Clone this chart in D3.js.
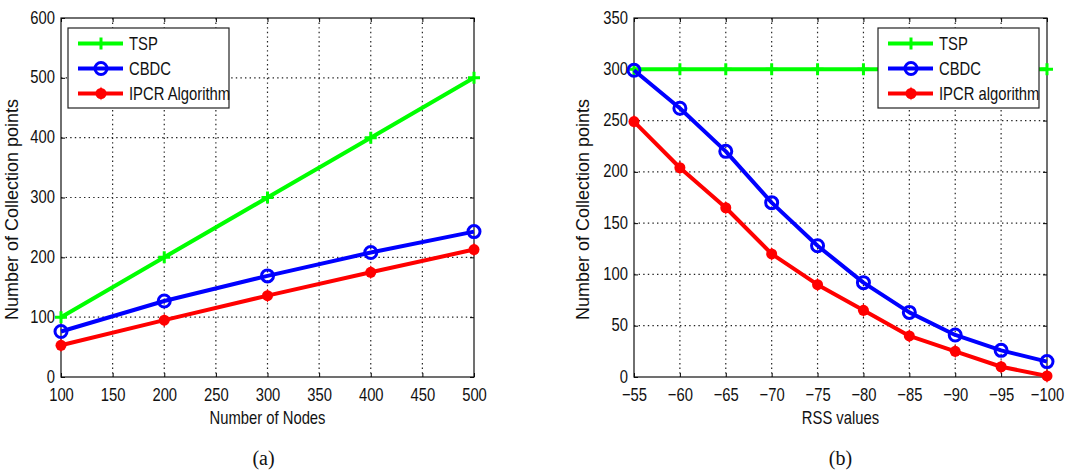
<!DOCTYPE html>
<html>
<head>
<meta charset="utf-8">
<script src="https://cdn.jsdelivr.net/npm/d3@7"></script>
<style>
body { margin: 0; background: #fff; }
svg { display: block; }
</style>
</head>
<body>
<div id="chart"></div>
<script>
// panel (a): number of nodes
const nodes = [100, 200, 300, 400, 500]
const tspA = [100, 200, 300, 400, 500]
const cbdcA = [76, 127, 169, 208, 243]
const ipcrA = [53, 95, 136, 175, 213]

// panel (b): RSS values
const rss = [-55, -60, -65, -70, -75, -80, -85, -90, -95, -100]
const tspB = [300, 300, 300, 300, 300, 300, 300, 300, 300, 300]
const cbdcB = [299, 262, 220, 170, 128, 92, 63, 41, 26, 15]
const ipcrB = [249, 204, 165, 120, 90, 65, 40, 25, 10, 1]

const xTicksA = [100, 150, 200, 250, 300, 350, 400, 450, 500]
const yTicksA = [0, 100, 200, 300, 400, 500, 600]
const xTicksB = [-55, -60, -65, -70, -75, -80, -85, -90, -95, -100]
const yTicksB = [0, 50, 100, 150, 200, 250, 300, 350]

const font = "'Liberation Sans', Arial, Helvetica, sans-serif"
const fs = 18.5

const svg = d3.select('#chart')
	.append('svg')
	.attr('width', 1081)
	.attr('height', 472)

function panel(opts) {
	const g = svg.append('g')
		.attr('transform', `translate(${opts.left},${opts.top})`)
	const w = opts.width, h = opts.height

	const x = d3.scaleLinear().domain(opts.xDomain).range([0, w])
	const y = d3.scaleLinear().domain(opts.yDomain).range([h, 0])

	// dotted grid
	g.append('g')
		.selectAll('line')
		.data(opts.xTicks.slice(1, -1))
		.join('line')
		.attr('x1', d => x(d)).attr('x2', d => x(d))
		.attr('y1', 0).attr('y2', h)
		.attr('stroke', '#222')
		.attr('stroke-width', 1.2)
		.attr('stroke-dasharray', '1.4,3.2')
	g.append('g')
		.selectAll('line')
		.data(opts.yTicks.slice(1, -1))
		.join('line')
		.attr('x1', 0).attr('x2', w)
		.attr('y1', d => y(d)).attr('y2', d => y(d))
		.attr('stroke', '#222')
		.attr('stroke-width', 1.2)
		.attr('stroke-dasharray', '1.4,3.2')

	// axes, ticks pointing inward on all four sides
	const xAxis = d3.axisBottom(x).tickValues(opts.xTicks).tickSize(-4).tickPadding(11)
		.tickFormat(d => d < 0 ? '\u2212' + Math.abs(d) : d)
	const yAxis = d3.axisLeft(y).tickValues(opts.yTicks).tickSize(-4).tickPadding(6)

	g.append('g')
		.attr('transform', `translate(0,${h})`)
		.call(xAxis)
		.call(a => a.select('.domain').remove())
		.call(a => a.selectAll('text').attr('class', 'cond').attr('font-size', fs).attr('font-family', font).attr('fill', '#111'))
	g.append('g')
		.call(yAxis)
		.call(a => a.select('.domain').remove())
		.call(a => a.selectAll('text').attr('class', 'cond').attr('dy', '0.27em').attr('font-size', fs).attr('font-family', font).attr('fill', '#111'))
	g.append('g')
		.call(d3.axisTop(x).tickValues(opts.xTicks).tickSize(-4).tickFormat(''))
		.call(a => a.select('.domain').remove())
	g.append('g')
		.attr('transform', `translate(${w},0)`)
		.call(d3.axisRight(y).tickValues(opts.yTicks).tickSize(-4).tickFormat(''))
		.call(a => a.select('.domain').remove())

	g.append('rect')
		.attr('width', w).attr('height', h)
		.attr('fill', 'none')
		.attr('stroke', '#111')
		.attr('stroke-width', 1.2)

	const line = d3.line()
		.x(d => x(d[0]))
		.y(d => y(d[1]))

	opts.series.forEach(s => {
		const pts = opts.xs.map((v, i) => [v, s.values[i]])
		g.append('path')
			.datum(pts)
			.attr('fill', 'none')
			.attr('stroke', s.color)
			.attr('stroke-width', 4)
			.attr('stroke-linejoin', 'round')
			.attr('d', line)
		const m = g.append('g')
			.selectAll('g')
			.data(pts)
			.join('g')
			.attr('transform', d => `translate(${x(d[0])},${y(d[1])})`)
		marker(m, s.marker, s.color)
	})

	// legend
	const lg = g.append('g')
		.attr('transform', `translate(${opts.legend.x},${opts.legend.y})`)
	lg.append('rect')
		.attr('width', opts.legend.w).attr('height', 80)
		.attr('fill', '#fff')
		.attr('stroke', '#222')
		.attr('stroke-width', 1.2)
	const rows = lg.selectAll('g')
		.data(opts.series)
		.join('g')
		.attr('transform', (d, i) => `translate(0,${15.5 + i * 25})`)
	rows.append('line')
		.attr('x1', 10).attr('x2', 55)
		.attr('stroke', d => d.color)
		.attr('stroke-width', 4)
	rows.append('g')
		.attr('transform', 'translate(33,0)')
		.each(function(d) { marker(d3.select(this), d.marker, d.color) })
	rows.append('text')
		.attr('class', 'cond')
		.attr('x', 61)
		.attr('dy', '0.36em')
		.attr('font-size', fs)
		.attr('font-family', font)
		.attr('fill', '#111')
		.text(d => d.name)

	// axis titles
	g.append('text')
		.attr('class', 'cond')
		.attr('x', w / 2)
		.attr('y', h + 47)
		.attr('text-anchor', 'middle')
		.attr('font-size', fs)
		.attr('font-family', font)
		.attr('fill', '#111')
		.text(opts.xLabel)
	g.append('text')
		.attr('transform', `translate(${opts.yLabelX},${h / 2 + 12}) rotate(-90)`)
		.attr('text-anchor', 'middle')
		.attr('font-size', 18)
		.attr('font-family', font)
		.attr('fill', '#111')
		.text('Number of Collection points')
	g.append('text')
		.attr('x', w / 2 + opts.captionDx)
		.attr('y', h + 88)
		.attr('text-anchor', 'middle')
		.attr('font-size', 20)
		.attr('font-family', "'Liberation Serif', 'Times New Roman', serif")
		.attr('fill', '#111')
		.text(opts.caption)
}

function marker(sel, type, color) {
	if (type === 'plus') {
		sel.append('path')
			.attr('d', 'M-6,0H6M0,-6V6')
			.attr('stroke', color)
			.attr('stroke-width', 3)
	} else if (type === 'circle') {
		sel.append('circle')
			.attr('r', 6)
			.attr('fill', 'none')
			.attr('stroke', color)
			.attr('stroke-width', 3)
	} else {
		sel.append('circle')
			.attr('r', 5.5)
			.attr('fill', color)
		sel.append('path')
			.attr('d', 'M0,-7L3,0L0,7L-3,0Z')
			.attr('fill', color)
	}
}

panel({
	left: 61, top: 18, width: 413, height: 359,
	xDomain: [100, 500], yDomain: [0, 600],
	xTicks: xTicksA, yTicks: yTicksA, xs: nodes,
	xLabel: 'Number of Nodes', yLabelX: -43, caption: '(a)', captionDx: -4,
	legend: { x: 7, y: 10, w: 161 },
	series: [
		{ name: 'TSP', values: tspA, color: '#00ff00', marker: 'plus' },
		{ name: 'CBDC', values: cbdcA, color: '#0000ff', marker: 'circle' },
		{ name: 'IPCR Algorithm', values: ipcrA, color: '#ff0000', marker: 'dot' }
	]
})

panel({
	left: 634, top: 18, width: 413, height: 359,
	xDomain: [-55, -100], yDomain: [0, 350],
	xTicks: xTicksB, yTicks: yTicksB, xs: rss,
	xLabel: 'RSS values', yLabelX: -45, caption: '(b)', captionDx: 0,
	legend: { x: 244, y: 10, w: 161 },
	series: [
		{ name: 'TSP', values: tspB, color: '#00ff00', marker: 'plus' },
		{ name: 'CBDC', values: cbdcB, color: '#0000ff', marker: 'circle' },
		{ name: 'IPCR algorithm', values: ipcrB, color: '#ff0000', marker: 'dot' }
	]
})

// squeeze the sans text to look like the condensed face of the original
svg.selectAll('text.cond').each(function() {
	const len = this.getComputedTextLength()
	d3.select(this)
		.attr('textLength', len * 0.8)
		.attr('lengthAdjust', 'spacingAndGlyphs')
})
</script>
</body>
</html>
